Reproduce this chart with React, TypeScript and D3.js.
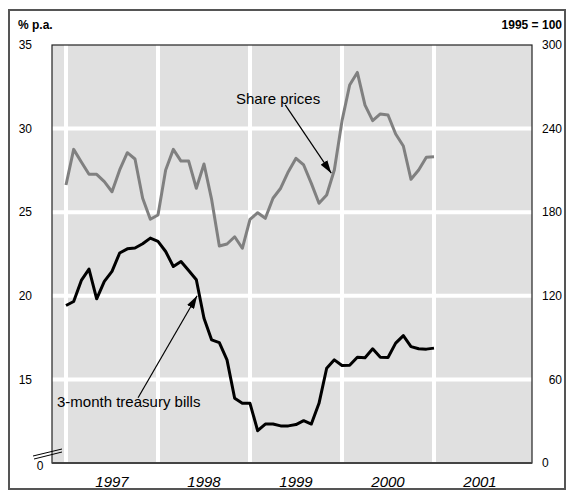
import { FC } from 'react';
import * as d3 from 'd3';

// monthly observations, Jan 1997 .. Jan 2001
const startYear = 1997;
const treasuryBills = [
  19.42, 19.66, 20.92, 21.6, 19.82, 20.86, 21.46, 22.56, 22.81, 22.86, 23.11, 23.45,
  23.25, 22.65, 21.75, 22.05, 21.51, 20.96, 18.66, 17.36, 17.2, 16.17, 13.87, 13.57,
  13.57, 11.93, 12.33, 12.33, 12.22, 12.22, 12.3, 12.53, 12.33, 13.57, 15.67, 16.17,
  15.83, 15.85, 16.33, 16.29, 16.83, 16.33, 16.31, 17.17, 17.62, 16.96, 16.83, 16.81,
  16.87,
];
const sharePrices = [
  199.5, 225.1, 216, 207.2, 207.2, 201.9, 194.7, 210.3, 222.7, 218.2, 190, 174.9,
  178, 210.3, 225.1, 216.7, 216.7, 197.2, 214.6, 189, 155.7, 157.2, 162.4, 154.1,
  174.9, 179.6, 175.6, 190, 197.2, 209.1, 218.7, 213.9, 200.7, 186.4, 192.3, 210.3,
  245.5, 271.3, 280.3, 256.9, 245.7, 250.5, 249.8, 236.1, 227.5, 203.6, 210.3, 219.4,
  219.8,
];
const yearLabels = [1997, 1998, 1999, 2000, 2001];
const leftTicks = [35, 30, 25, 20, 15];
const rightTicks = [300, 240, 180, 120, 60, 0];
const gridValues = [30, 25, 20, 15];

const W = 571;
const H = 493;
const font = '"Liberation Sans", Arial, Helvetica, sans-serif';

const App: FC = () => {
  const plot = { left: 52, right: 532, top: 45, bottom: 463 };

  const x = d3
    .scaleLinear()
    .domain([1997 - 14 / 92, 2002 + 6 / 92])
    .range([plot.left, plot.right]);
  const yLeft = d3.scaleLinear().domain([10, 35]).range([plot.bottom, plot.top]);
  const yRight = d3.scaleLinear().domain([0, 300]).range([plot.bottom, plot.top]);

  const t = (i: number) => startYear + i / 12;

  const billsLine = d3
    .line<number>()
    .x((_, i) => x(t(i)))
    .y((d) => yLeft(d));
  const shareLine = d3
    .line<number>()
    .x((_, i) => x(t(i)))
    .y((d) => yRight(d));

  // annotation anchors (data space)
  const shareTip = [x(t(34.6)), yRight(208)];
  const shareFrom = [x(t(28.6)), yRight(257)];
  const billsTip = [x(t(17.1)), yLeft(20)];
  const billsFrom = [x(t(9.4)), yLeft(13.9)];

  return (
    <svg
      width={W}
      height={H}
      style={{ position: 'absolute', left: 0, top: 0, background: '#fff' }}
      fontFamily={font}
    >
      <defs>
        <marker
          id="arrow"
          viewBox="0 0 13 8"
          refX="13"
          refY="4"
          markerWidth="13"
          markerHeight="8"
          markerUnits="userSpaceOnUse"
          orient="auto"
        >
          <path d="M0,0 L13,4 L0,8 Z" fill="#000" />
        </marker>
      </defs>

      {/* outer frame */}
      <rect x={9} y={10} width={556} height={479} fill="none" stroke="#555" strokeWidth={2} />

      {/* plot background */}
      <rect
        x={plot.left}
        y={plot.top}
        width={plot.right - plot.left}
        height={plot.bottom - plot.top}
        fill="#e0e0e0"
      />

      {/* grid */}
      {yearLabels.map((yr) => (
        <line
          key={'v' + yr}
          x1={x(yr)}
          x2={x(yr)}
          y1={plot.top}
          y2={plot.bottom}
          stroke="#fff"
          strokeWidth={4}
        />
      ))}
      {gridValues.map((v) => (
        <line
          key={'h' + v}
          x1={plot.left}
          x2={plot.right}
          y1={yLeft(v)}
          y2={yLeft(v)}
          stroke="#fff"
          strokeWidth={4}
        />
      ))}

      {/* plot border */}
      <rect
        x={plot.left}
        y={plot.top}
        width={plot.right - plot.left}
        height={plot.bottom - plot.top}
        fill="none"
        stroke="#222"
        strokeWidth={1.2}
      />
      <line x1={plot.left} x2={plot.right} y1={plot.bottom} y2={plot.bottom} stroke="#444" strokeWidth={2} />

      {/* axis break */}
      <line x1={33} y1={456} x2={62} y2={449} stroke="#000" strokeWidth={1} />
      <line x1={34} y1={459} x2={62} y2={452} stroke="#000" strokeWidth={1} />

      {/* series */}
      <path d={shareLine(sharePrices) ?? ''} fill="none" stroke="#808080" strokeWidth={3} strokeLinejoin="round" />
      <path d={billsLine(treasuryBills) ?? ''} fill="none" stroke="#000" strokeWidth={3} strokeLinejoin="round" />

      {/* annotations */}
      <line
        x1={shareFrom[0]}
        y1={shareFrom[1]}
        x2={shareTip[0]}
        y2={shareTip[1]}
        stroke="#000"
        strokeWidth={1.2}
        markerEnd="url(#arrow)"
      />
      <text x={236} y={104} fontSize={15} fill="#000">
        Share prices
      </text>
      <line
        x1={billsFrom[0]}
        y1={billsFrom[1]}
        x2={billsTip[0]}
        y2={billsTip[1]}
        stroke="#000"
        strokeWidth={1.2}
        markerEnd="url(#arrow)"
      />
      <text x={57} y={407} fontSize={15} fill="#000">
        3-month treasury bills
      </text>

      {/* unit labels */}
      <text x={18} y={29} fontSize={12} fontWeight="bold">
        % p.a.
      </text>
      <text x={562} y={29} fontSize={12} fontWeight="bold" textAnchor="end">
        1995 = 100
      </text>

      {/* left axis */}
      {leftTicks.map((v) => (
        <text key={'l' + v} x={32} y={yLeft(v)} dy="0.35em" fontSize={12} textAnchor="end">
          {v}
        </text>
      ))}
      <text x={40} y={466} dy="0.35em" fontSize={12} textAnchor="middle">
        0
      </text>

      {/* right axis */}
      {rightTicks.map((v) => (
        <text
          key={'r' + v}
          x={v === 0 ? 542 : 562}
          y={yRight(v)}
          dy="0.35em"
          fontSize={12}
          textAnchor={v === 0 ? 'start' : 'end'}
        >
          {v}
        </text>
      ))}

      {/* x axis */}
      {yearLabels.map((yr) => (
        <text key={'x' + yr} x={x(yr + 0.5)} y={487} fontSize={15} fontStyle="italic" textAnchor="middle">
          {yr}
        </text>
      ))}
    </svg>
  );
};

export default App;
